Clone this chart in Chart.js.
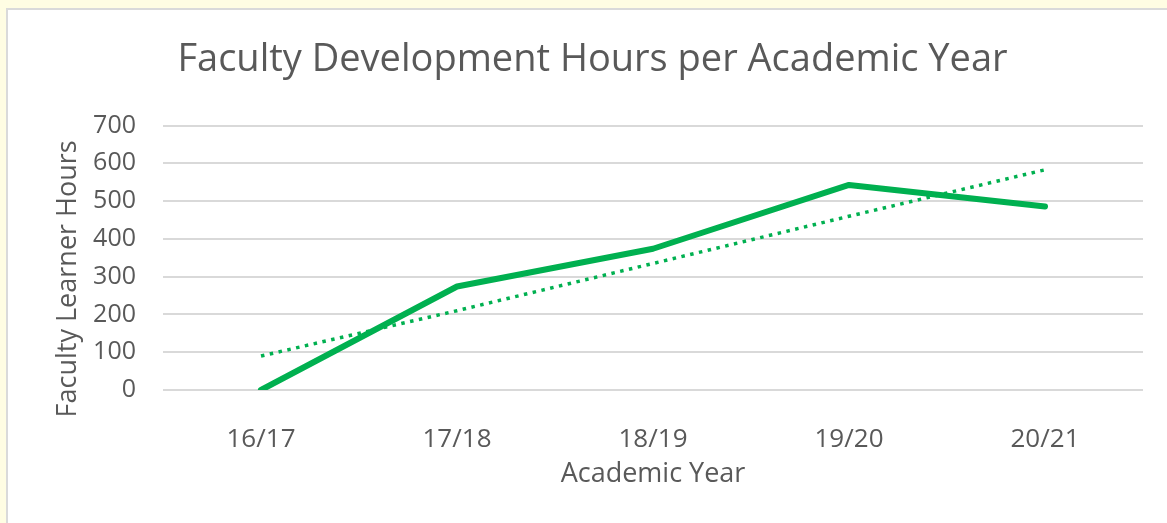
<!DOCTYPE html>
<html>
<head>
<meta charset="utf-8">
<script src="https://cdn.jsdelivr.net/npm/chart.js@4/dist/chart.umd.min.js"></script>
<style>
    html, body { margin: 0; padding: 0; }
    body { width: 1167px; height: 523px; background: #fffde3; overflow: hidden; position: relative; }
    #card { position: absolute; left: 6px; top: 8px; right: 0; bottom: 0; background: #fff;
            border-left: 2px solid #dadada; border-top: 2px solid #dadada; }
    #mychart { display: block; }
</style>
</head>
<body>
<div id="card"><canvas id="mychart" width="1159" height="513"></canvas></div>
<script>
"use strict";
const YEARS = ["16/17", "17/18", "18/19", "19/20", "20/21"];
const HOURS = [0, 274, 374, 543, 486];
// dotted linear trendline at each year
const TREND = [90, 210, 335, 460, 583];
const Y_TICKS = [0, 100, 200, 300, 400, 500, 600, 700];

(function() {
    const chart = document.getElementById("mychart");
    const TEXT = "#595959";
    const GREEN = "#00b050";
    const FONT = "'Open Sans', sans-serif";

    new Chart(chart, {
        type: 'line',
        data: {
            labels: YEARS,
            datasets: [
                {label: 'Hours',
                data: HOURS,
                borderColor: GREEN,
                borderWidth: 6,
                borderCapStyle: 'round',
                borderJoinStyle: 'round',
                pointRadius: 0,
                tension: 0
                },
                {label: 'Trend',
                data: TREND,
                borderColor: GREEN,
                borderWidth: 3.5,
                borderDash: [3.5, 5.5],
                pointRadius: 0,
                tension: 0
                }
            ]
        },
        options: {
            responsive: false,
            animation: false,
            layout: {padding: {left: 34, right: 24, top: 0, bottom: 0}},
            plugins: {
                legend: {display: false},
                tooltip: {enabled: false},
                title: {
                    display: true,
                    text: 'Faculty Development Hours per Academic Year',
                    color: TEXT,
                    font: {family: FONT, size: 38, weight: 'normal'},
                    padding: {top: 27, bottom: 43}
                }
            },
            scales: {
                x: {
                    offset: true,
                    grid: {display: false, drawTicks: false},
                    border: {display: false},
                    ticks: {color: TEXT, font: {family: FONT, size: 26}, padding: 34},
                    title: {display: true, text: 'Academic Year', color: TEXT,
                        font: {family: FONT, size: 27}, padding: {top: 0, bottom: 32}},
                    afterFit: s => { s.height = 133; }
                },
                y: {
                    min: 0,
                    max: 700,
                    afterBuildTicks: s => { s.ticks = Y_TICKS.map(v => ({value: v})); },
                    grid: {color: "#d9d9d9", lineWidth: 2, drawTicks: false},
                    border: {display: false},
                    ticks: {color: TEXT, font: {family: FONT, size: 25}, padding: 27},
                    // trailing no-break spaces nudge the title down to sit like the original
                    title: {display: true, text: 'Faculty Learner Hours' + '\u00a0'.repeat(6), color: TEXT,
                        font: {family: FONT, size: 27}, padding: {top: 10, bottom: 0}},
                    afterFit: s => { s.width = 121; }
                }
            }
        }
    });
})();
</script>
</body>
</html>
